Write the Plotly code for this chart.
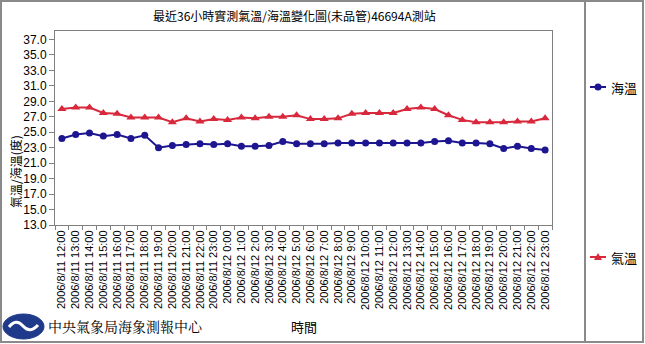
import plotly.graph_objects as go

W, H = 645, 344
L, R, T, B = 55, 552, 31, 225  # plot area in px

categories = ["2006/8/11 12:00", "2006/8/11 13:00", "2006/8/11 14:00", "2006/8/11 15:00",
              "2006/8/11 16:00", "2006/8/11 17:00", "2006/8/11 18:00", "2006/8/11 19:00",
              "2006/8/11 20:00", "2006/8/11 21:00", "2006/8/11 22:00", "2006/8/11 23:00",
              "2006/8/12 0:00", "2006/8/12 1:00", "2006/8/12 2:00", "2006/8/12 3:00",
              "2006/8/12 4:00", "2006/8/12 5:00", "2006/8/12 6:00", "2006/8/12 7:00",
              "2006/8/12 8:00", "2006/8/12 9:00", "2006/8/12 10:00", "2006/8/12 11:00",
              "2006/8/12 12:00", "2006/8/12 13:00", "2006/8/12 14:00", "2006/8/12 15:00",
              "2006/8/12 16:00", "2006/8/12 17:00", "2006/8/12 18:00", "2006/8/12 19:00",
              "2006/8/12 20:00", "2006/8/12 21:00", "2006/8/12 22:00", "2006/8/12 23:00"]

sea_temp = [24.2, 24.7, 24.9, 24.5, 24.7, 24.2, 24.6, 23.0, 23.3, 23.4, 23.5, 23.4,
            23.5, 23.2, 23.2, 23.3, 23.8, 23.5, 23.5, 23.5, 23.6, 23.6, 23.6, 23.6,
            23.6, 23.6, 23.6, 23.8, 23.9, 23.6, 23.6, 23.5, 22.9, 23.2, 22.9, 22.7]

air_temp = [28.0, 28.2, 28.2, 27.5, 27.4, 26.9, 26.9, 26.9, 26.3, 26.8, 26.4, 26.7,
            26.6, 26.9, 26.8, 27.0, 27.0, 27.2, 26.7, 26.7, 26.8, 27.4, 27.5, 27.5,
            27.5, 28.0, 28.2, 28.0, 27.2, 26.6, 26.3, 26.3, 26.3, 26.4, 26.4, 26.8]

series_names = ["海溫", "氣溫"]

y_ticks = [13.0, 15.0, 17.0, 19.0, 21.0, 23.0, 25.0, 27.0, 29.0, 31.0, 33.0, 35.0, 37.0]

BLUE = "#1e1690"
RED = "#d8283c"
FONT = "Liberation Sans, Noto Sans CJK TC, sans-serif"


def px(x):
    return (x - L) / (R - L)


def py(y):
    return (B - y) / (B - T)


fig = go.Figure()
fig.add_trace(go.Scatter(x=categories, y=sea_temp, name=series_names[0], mode="lines+markers",
                         line=dict(color=BLUE, width=2),
                         marker=dict(symbol="circle", size=7, color=BLUE)))
fig.add_trace(go.Scatter(x=categories, y=air_temp, name=series_names[1], mode="lines+markers",
                         line=dict(color=RED, width=2),
                         marker=dict(symbol="triangle-up", size=8, color=RED)))

# manual legend (items placed far apart as in the reference)
legend_items = [(series_names[0], BLUE, "circle", 87), (series_names[1], RED, "triangle", 257)]
legend_shapes, legend_annots = [], []
for name, color, sym, ly in legend_items:
    legend_shapes.append(dict(type="line", xref="paper", yref="paper",
                              x0=px(590), x1=px(606), y0=py(ly), y1=py(ly),
                              line=dict(color=color, width=2)))
    if sym == "circle":
        legend_shapes.append(dict(type="circle", xref="paper", yref="paper",
                                  x0=px(594.5), x1=px(601.5), y0=py(ly + 3.5), y1=py(ly - 3.5),
                                  fillcolor=color, line=dict(color=color, width=0)))
    else:
        legend_shapes.append(dict(type="path", xref="paper", yref="paper",
                                  path=f"M {px(594)},{py(ly + 3)} L {px(602)},{py(ly + 3)} "
                                       f"L {px(598)},{py(ly - 4)} Z",
                                  fillcolor=color, line=dict(color=color, width=0)))
    legend_annots.append(dict(text=name, xref="paper", yref="paper", x=px(609), y=py(ly),
                              showarrow=False, xanchor="left", yanchor="middle",
                              font=dict(family="Noto Sans CJK TC", size=13, color="black")))

fig.update_layout(
    width=W, height=H,
    margin=dict(l=L, r=W - R, t=T, b=H - B, autoexpand=False),
    paper_bgcolor="white", plot_bgcolor="white",
    font=dict(family=FONT, size=11, color="black"),
    showlegend=False,
    xaxis=dict(type="category", range=[-0.5, len(categories) - 0.5],
               tickangle=-90, tickson="boundaries", ticks="outside", ticklen=4,
               tickcolor="#808080", showline=True, linecolor="#808080", linewidth=1,
               mirror=True, showgrid=False, zeroline=False,
               tickfont=dict(family=FONT, size=11, color="black")),
    yaxis=dict(range=[13, 38.1], tickmode="array", tickvals=y_ticks,
               ticktext=[f"{v:.1f}" for v in y_ticks],
               ticks="outside", ticklen=5, tickcolor="#808080",
               showline=True, linecolor="#808080", linewidth=1, mirror=True,
               showgrid=False, zeroline=False,
               tickfont=dict(family=FONT, size=12, color="black")),
    annotations=[
        dict(text="最近36小時實測氣溫/海溫變化圖(未品管)46694A測站", xref="paper", yref="paper",
             x=px(294), y=py(15), showarrow=False, xanchor="center", yanchor="middle",
             font=dict(family="Noto Sans CJK TC", size=12, color="black")),
        dict(text="氣溫/海溫(度)", xref="paper", yref="paper", x=px(15), y=py(172),
             showarrow=False, textangle=-90, xanchor="center", yanchor="middle",
             font=dict(family="Noto Sans CJK TC", size=12, color="black")),
        dict(text="時間", xref="paper", yref="paper", x=px(304), y=py(326),
             showarrow=False, xanchor="center", yanchor="middle",
             font=dict(family="Noto Sans CJK TC", size=13, color="black")),
        dict(text="中央氣象局海象測報中心", xref="paper", yref="paper", x=px(46), y=py(326),
             showarrow=False, xanchor="left", yanchor="middle",
             font=dict(family="Noto Serif CJK TC, Noto Sans CJK TC", size=14, color="black")),
    ] + legend_annots,
    shapes=[
        dict(type="rect", xref="paper", yref="paper", x0=px(1), x1=px(643), y0=py(1), y1=py(342),
             line=dict(color="#8a8a8a", width=2), layer="below"),
        dict(type="line", xref="paper", yref="paper", x0=px(585), x1=px(585), y0=py(1), y1=py(342),
             line=dict(color="#8a8a8a", width=2)),
        dict(type="circle", xref="paper", yref="paper", x0=px(3), x1=px(44), y0=py(314), y1=py(339),
             fillcolor="#1f3a8a", line=dict(color="#1f3a8a", width=1)),
        dict(type="path", xref="paper", yref="paper",
             path=f"M {px(9)},{py(327)} Q {px(16)},{py(318)} {px(23)},{py(326)} "
                  f"Q {px(30)},{py(334)} {px(38)},{py(325)}",
             line=dict(color="white", width=3)),
    ] + legend_shapes,
)

fig.write_html("out.html")
